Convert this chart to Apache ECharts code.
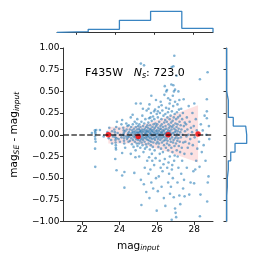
<!DOCTYPE html>
<html><head><meta charset="utf-8">
<script src="https://cdn.jsdelivr.net/npm/echarts@6/dist/echarts.min.js"></script>
<style>html,body{margin:0;padding:0;background:#fff}#c{width:258px;height:258px}</style>
</head><body><div id="c"></div>
<script>
const xTicks = [22, 24, 26, 28];
const yTicks = [-1, -0.75, -0.5, -0.25, 0, 0.25, 0.5, 0.75, 1];
const filterName = 'F435W';
const nSources = '723.0';
const medianX = [23.4, 25.0, 26.6, 28.2];
const medianY = [0.0, -0.02, 0.0, 0.01];
const bandUpper = [0.09, 0.10, 0.21, 0.34];
const bandLower = [-0.10, -0.10, -0.20, -0.32];
const zeroLevel = 0;
const topHistEdges = [21, 22.6, 24.2, 25.8, 27.4, 29];
const topHistCounts = [12, 53, 213, 374, 71];
const rightHistEdges = [-1.0,-0.9,-0.8,-0.7,-0.6,-0.5,-0.4,-0.3,-0.2,-0.1,0.0,0.1,0.2,0.3,0.4,0.5,0.6,0.7,0.8,0.9,1.0];
const rightHistCounts = [6,6,6,12,12,21,21,43,82,188,179,66,21,21,6,6,6,6,6,6];
const scatterPoints = [
[22.52,0.02],[22.68,0.05],[22.70,0.03],[22.71,0.01],[22.69,-0.02],[22.70,-0.05],[22.72,-0.08],[22.69,-0.16],[22.70,-0.37],[22.75,0.055],[22.95,0.055],[23.15,-0.02],
[23.35,0.03],[23.42,-0.04],[23.5,0.01],[23.55,-0.06],[23.6,0.04],[23.65,-0.02],[23.72,0.06],[23.75,0.03],[23.76,0.0],[23.77,-0.03],[23.78,-0.06],[23.79,-0.09],[23.8,-0.12],[23.8,-0.15],[23.81,-0.17],[23.82,0.09],[23.84,-0.04],[23.77,-0.28],[23.84,-0.41],[23.86,0.15],[23.9,0.02],[23.95,-0.05],[23.98,0.07],[23.6,-0.1],[23.45,0.08],
[24.05,0.0],[24.1,-0.03],[24.14,0.17],[24.14,-0.21],[24.14,-0.47],[24.2,0.08],[24.22,0.05],[24.23,0.02],[24.23,-0.01],[24.24,-0.04],[24.24,-0.07],[24.25,-0.1],[24.26,-0.43],[24.26,-0.61],[24.3,0.04],[24.35,-0.02],[24.38,0.06],[24.4,-0.05],[24.42,0.1],[24.45,0.01],[24.48,-0.08],[24.49,0.11],[24.1,0.12],[24.3,-0.15],[24.45,-0.03],[24.02,-0.08],[24.18,0.0],[24.36,0.13],
[24.5,0.03],[24.52,-0.02],[24.55,0.06],[24.56,-0.07],[24.58,0.0],[24.6,0.2],[24.62,0.09],[24.63,-0.04],[24.65,0.02],[24.66,-0.11],[24.68,0.05],[24.7,-0.01],[24.71,0.12],[24.72,-0.06],[24.74,0.03],[24.75,-0.14],[24.77,0.07],[24.78,-0.03],[24.79,-0.44],[24.8,0.01],[24.81,0.15],[24.82,-0.08],[24.84,0.04],[24.85,-0.02],[24.86,-0.18],[24.87,0.09],[24.88,0.36],[24.89,-0.05],[24.9,0.02],[24.91,0.13],[24.92,-0.1],[24.93,0.06],[24.94,-0.01],[24.95,0.18],[24.96,-0.13],[24.97,0.03],[24.98,-0.06],[24.99,0.1],[24.6,-0.22],[24.7,0.23],[24.85,-0.26],
[25.01,0.02],[25.02,-0.04],[25.03,0.07],[25.04,-0.1],[25.05,0.0],[25.06,0.12],[25.07,-0.02],[25.08,0.05],[25.09,-0.07],[25.1,0.03],[25.11,-0.15],[25.12,0.09],[25.13,0.36],[25.13,-0.01],[25.14,0.82],[25.14,-0.52],[25.15,0.04],[25.16,-0.05],[25.17,-0.81],[25.17,0.15],[25.18,-0.09],[25.19,0.01],[25.2,0.06],[25.21,-0.03],[25.22,0.22],[25.23,-0.12],[25.24,0.03],[25.25,-0.06],[25.26,0.1],[25.27,-0.01],[25.28,-0.2],[25.29,0.05],[25.3,-0.57],[25.31,0.8],[25.31,-0.04],[25.32,0.13],[25.33,0.0],[25.34,-0.08],[25.35,0.07],[25.36,-0.16],[25.37,0.02],[25.38,0.18],[25.39,-0.03],[25.4,0.04],[25.41,-0.11],[25.42,0.09],[25.43,-0.66],[25.43,0.01],[25.44,-0.05],[25.45,0.28],[25.46,0.05],[25.47,-0.02],[25.48,-0.3],[25.49,0.11],[25.05,-0.25],[25.25,0.3],[25.35,-0.38],[25.45,-0.14],
[25.5,0.03],[25.51,-0.06],[25.52,0.08],[25.53,-0.01],[25.54,0.14],[25.55,-0.45],[25.55,-0.1],[25.56,0.04],[25.57,-0.03],[25.58,0.19],[25.59,0.0],[25.6,0.35],[25.6,-0.73],[25.6,-0.07],[25.61,0.06],[25.62,-0.17],[25.63,0.02],[25.64,0.11],[25.65,-0.4],[25.65,-0.04],[25.66,0.07],[25.67,-0.12],[25.68,0.25],[25.68,0.01],[25.69,-0.08],[25.7,0.45],[25.7,-0.55],[25.7,0.04],[25.71,-0.02],[25.72,0.16],[25.73,-0.22],[25.74,0.05],[25.75,-0.05],[25.76,0.09],[25.77,0.0],[25.78,-0.14],[25.79,0.21],[25.8,-0.62],[25.8,0.03],[25.81,-0.09],[25.82,0.12],[25.83,-0.01],[25.84,0.06],[25.85,-0.35],[25.85,-0.04],[25.86,0.18],[25.87,0.02],[25.88,-0.18],[25.89,0.08],[25.9,0.29],[25.9,-0.06],[25.91,0.0],[25.92,0.13],[25.93,-0.27],[25.94,0.04],[25.95,0.4],[25.95,-0.5],[25.95,-0.03],[25.96,0.1],[25.97,-0.1],[25.98,0.01],[25.99,-0.875],[25.99,0.24],[25.55,0.3],[25.75,-0.3],[25.65,0.2],[25.85,0.27],[25.58,-0.26],
[26.0,0.05],[26.01,-0.02],[26.02,0.12],[26.03,-0.08],[26.04,0.02],[26.05,-0.65],[26.05,0.2],[26.06,-0.05],[26.07,0.08],[26.08,-0.14],[26.09,0.0],[26.1,0.32],[26.1,-0.48],[26.1,0.04],[26.11,-0.1],[26.12,0.15],[26.13,-0.03],[26.14,0.06],[26.15,-0.22],[26.16,0.25],[26.17,0.01],[26.18,-0.06],[26.19,0.1],[26.2,0.38],[26.2,-0.38],[26.2,-0.01],[26.21,0.07],[26.22,-0.16],[26.23,0.03],[26.24,0.18],[26.25,-0.6],[26.25,-0.04],[26.26,0.12],[26.27,-0.09],[26.28,0.02],[26.29,0.28],[26.3,-0.42],[26.3,0.05],[26.31,-0.02],[26.32,-0.2],[26.33,0.09],[26.34,0.0],[26.35,0.22],[26.36,-0.07],[26.37,-0.73],[26.37,0.04],[26.38,-0.12],[26.39,0.14],[26.4,0.46],[26.4,-0.03],[26.41,0.06],[26.42,0.56],[26.42,-0.28],[26.43,0.01],[26.44,0.17],[26.45,-0.82],[26.45,-0.06],[26.46,0.1],[26.47,0.02],[26.48,-0.15],[26.49,0.31],[26.5,0.5],[26.5,-0.01],[26.15,-0.3],[26.35,-0.34],[26.05,0.27],[26.25,0.34],[26.45,0.24],
[26.51,0.07],[26.52,-0.04],[26.53,0.15],[26.54,0.515],[26.54,-0.1],[26.55,-0.38],[26.55,0.03],[26.56,0.2],[26.57,-0.07],[26.58,0.0],[26.59,0.26],[26.6,0.42],[26.6,-0.55],[26.6,-0.18],[26.61,0.05],[26.62,0.12],[26.63,-0.02],[26.64,0.3],[26.65,-0.45],[26.65,0.08],[26.66,-0.12],[26.67,0.02],[26.68,0.18],[26.69,-0.25],[26.7,-0.68],[26.7,0.04],[26.71,0.4],[26.71,-0.05],[26.72,0.1],[26.73,0.22],[26.74,-0.08],[26.75,-0.6],[26.75,0.01],[26.76,0.14],[26.77,0.58],[26.77,-0.15],[26.78,0.06],[26.79,0.78],[26.79,-0.98],[26.8,-0.4],[26.8,0.27],[26.81,-0.03],[26.82,0.09],[26.83,-0.2],[26.84,0.16],[26.85,0.45],[26.85,-0.5],[26.85,0.02],[26.86,-0.09],[26.87,0.33],[26.88,0.79],[26.88,0.57],[26.88,0.11],[26.89,-0.06],[26.9,-0.72],[26.9,0.2],[26.91,0.5],[26.91,0.0],[26.92,-0.3],[26.93,0.91],[26.93,0.07],[26.94,-0.13],[26.95,0.24],[26.96,0.03],[26.97,0.38],[26.97,0.52],[26.97,-0.85],[26.98,-0.04],[26.99,0.13],[27.0,-0.9],[26.62,-0.32],[26.82,-0.35],[26.68,0.36],[26.95,-0.24],
[27.01,0.05],[27.02,-0.1],[27.03,-0.95],[27.03,0.18],[27.04,-0.02],[27.05,0.68],[27.05,0.09],[27.06,-0.18],[27.07,0.26],[27.08,0.01],[27.09,-0.07],[27.1,0.35],[27.1,-0.55],[27.1,0.12],[27.11,-0.25],[27.12,0.04],[27.13,0.2],[27.14,-0.04],[27.15,0.5],[27.15,-0.38],[27.16,0.07],[27.17,-0.13],[27.18,0.29],[27.19,0.0],[27.2,0.4],[27.2,-0.7],[27.21,0.15],[27.22,-0.08],[27.23,0.22],[27.24,-0.2],[27.25,-0.8],[27.25,0.03],[27.27,0.11],[27.28,-0.03],[27.3,0.3],[27.3,-0.45],[27.31,0.06],[27.33,-0.15],[27.35,-0.3],[27.35,0.18],[27.37,0.0],[27.39,0.25],[27.4,-0.62],[27.41,-0.09],[27.43,0.41],[27.44,0.1],[27.45,-0.52],[27.47,-0.22],[27.49,0.14],
[27.5,0.04],[27.52,-0.08],[27.48,-0.71],[27.56,0.12],[27.58,-0.02],[27.6,0.2],[27.6,-0.38],[27.63,0.06],[27.65,-0.15],[27.68,0.0],[27.7,0.33],[27.72,-0.1],[27.73,-0.69],[27.75,0.15],[27.78,-0.05],[27.8,-0.55],[27.82,0.08],[27.85,-0.22],[27.88,0.03],[27.9,0.25],[27.92,-0.12],[27.95,-0.42],[27.97,0.1],[27.99,-0.56],[28.0,0.36],[28.02,-0.03],[28.05,-0.4],[28.08,0.18],[28.1,-0.3],[28.13,0.05],[28.16,-0.16],
[28.22,0.02],[28.25,-0.08],[28.28,-0.37],[28.3,0.64],[28.3,-0.94],[28.33,-0.69],[28.35,0.12],[28.4,-0.2],[28.45,0.05],[28.5,-0.12],[28.55,0.22],[28.6,-0.3],[28.65,0.0],[28.67,0.41],[28.67,0.27],[28.67,0.19],[28.69,-0.77],[28.71,0.72],[28.72,-0.55],[28.76,-0.48],[28.78,0.1],[28.8,-0.05]
];

const FONT = 'DejaVu Sans';
const AX = '#333';
const HIST = '#3a85c2';

function fmtY(v){ return (v < 0 ? '\u2212' : '') + Math.abs(v).toFixed(2); }

// step outlines derived from bin edges and counts
const topStep = [[topHistEdges[0], 0]];
topHistCounts.forEach((c, i) => { topStep.push([topHistEdges[i], c]); topStep.push([topHistEdges[i+1], c]); });
topStep.push([topHistEdges[topHistEdges.length-1], 0]);
const rightStep = [];
rightHistCounts.forEach((c, i) => { rightStep.push([c, rightHistEdges[i]]); rightStep.push([c, rightHistEdges[i+1]]); });

const medianData = medianX.map((x, i) => [x, medianY[i]]);

const chart = echarts.init(document.getElementById('c'), null, {renderer: 'canvas'});
chart.setOption({
  animation: false,
  backgroundColor: '#fff',
  textStyle: {fontFamily: FONT},
  title: {
    text: '{a|' + filterName + '}   {n|N}{s|s}{a|: ' + nSources + '}',
    left: 80, top: 61,
    textStyle: {
      fontFamily: FONT, fontSize: 11, fontWeight: 'normal', color: '#000', lineHeight: 14,
      rich: {
        a: {fontFamily: FONT, fontSize: 11, fontWeight: 'normal', color: '#000', lineHeight: 14},
        n: {fontFamily: FONT, fontSize: 11, fontWeight: 'normal', fontStyle: 'italic', color: '#000', lineHeight: 14},
        s: {fontFamily: FONT, fontSize: 8, fontWeight: 'normal', fontStyle: 'italic', color: '#000', lineHeight: 7, verticalAlign: 'bottom'}
      }
    }
  },
  grid: [
    {left: 57, top: 48, width: 156, height: 173.5},
    {left: 57, top: 8, width: 156, height: 24.3},
    {left: 226, top: 48, width: 24, height: 173.5}
  ],
  xAxis: [
    {gridIndex: 0, type: 'value', min: 21, max: 29, interval: 1,
     name: 'mag{s|input}', nameLocation: 'middle', nameGap: 11,
     nameTextStyle: {fontFamily: FONT, fontSize: 10.5, color: '#000', lineHeight: 13,
       rich: {s: {fontFamily: FONT, fontSize: 7.5, fontStyle: 'italic', color: '#000', lineHeight: 6, verticalAlign: 'bottom'}}},
     axisLine: {show: true, onZero: false, lineStyle: {color: AX, width: 1}},
     axisTick: {show: true, length: 3.5, customValues: xTicks, lineStyle: {color: AX}},
     axisLabel: {customValues: xTicks, fontFamily: FONT, fontSize: 9, color: '#000', margin: 4},
     splitLine: {show: false}},
    {gridIndex: 1, type: 'value', min: 21, max: 29, interval: 1,
     axisLine: {show: true, onZero: false, lineStyle: {color: AX, width: 1}},
     axisTick: {show: true, length: 2.5, customValues: xTicks, lineStyle: {color: AX}},
     axisLabel: {show: false}, splitLine: {show: false}},
    {gridIndex: 2, type: 'value', min: 0, max: 218, show: false, splitLine: {show: false}}
  ],
  yAxis: [
    {gridIndex: 0, type: 'value', min: -1, max: 1, interval: 0.25,
     name: 'mag{s|SE} - mag{s|input}', nameLocation: 'middle', nameGap: 33, nameRotate: 90,
     nameTextStyle: {fontFamily: FONT, fontSize: 10.5, color: '#000', lineHeight: 13,
       rich: {s: {fontFamily: FONT, fontSize: 7.5, fontStyle: 'italic', color: '#000', lineHeight: 6, verticalAlign: 'bottom'}}},
     axisLine: {show: true, onZero: false, lineStyle: {color: AX, width: 1}},
     axisTick: {show: true, length: 3.5, lineStyle: {color: AX}},
     axisLabel: {fontFamily: FONT, fontSize: 9, color: '#000', margin: 4, formatter: fmtY},
     splitLine: {show: false}},
    {gridIndex: 1, type: 'value', min: 0, max: 433, show: false, splitLine: {show: false}},
    {gridIndex: 2, type: 'value', min: -1, max: 1, interval: 0.25,
     axisLine: {show: true, onZero: false, lineStyle: {color: '#8c8c8c', width: 1.4}},
     axisTick: {show: true, length: 2.5, lineStyle: {color: AX}},
     axisLabel: {show: false}, splitLine: {show: false}}
  ],
  series: [
    {type: 'custom', xAxisIndex: 0, yAxisIndex: 0, silent: true, z: 1,
     data: [[medianX[0], 0]],
     renderItem: function(params, api){
       const pts = [];
       for (let i = 0; i < medianX.length; i++) pts.push(api.coord([medianX[i], bandUpper[i]]));
       for (let i = medianX.length - 1; i >= 0; i--) pts.push(api.coord([medianX[i], bandLower[i]]));
       return {type: 'polygon', shape: {points: pts}, style: {fill: 'rgba(245,80,80,0.17)'}};
     }},
    {type: 'scatter', xAxisIndex: 0, yAxisIndex: 0, z: 2, silent: true,
     symbol: 'circle', symbolSize: 2.6,
     itemStyle: {color: 'rgba(31,119,180,0.7)'},
     data: scatterPoints,
     markLine: {silent: true, symbol: 'none', label: {show: false},
       lineStyle: {color: 'rgba(0,0,0,0.75)', type: [5.5, 2.4], width: 1.5},
       data: [{yAxis: zeroLevel}]}},
    {type: 'scatter', xAxisIndex: 0, yAxisIndex: 0, z: 4, silent: true,
     symbol: 'circle', symbolSize: 5.5, itemStyle: {color: '#ff0000'},
     data: medianData},
    {type: 'line', xAxisIndex: 1, yAxisIndex: 1, silent: true, symbol: 'none',
     lineStyle: {color: HIST, width: 1.3}, data: topStep},
    {type: 'line', xAxisIndex: 2, yAxisIndex: 2, silent: true, symbol: 'none', z: 3,
     lineStyle: {color: HIST, width: 1.3}, data: rightStep}
  ]
});
</script>
</body></html>
